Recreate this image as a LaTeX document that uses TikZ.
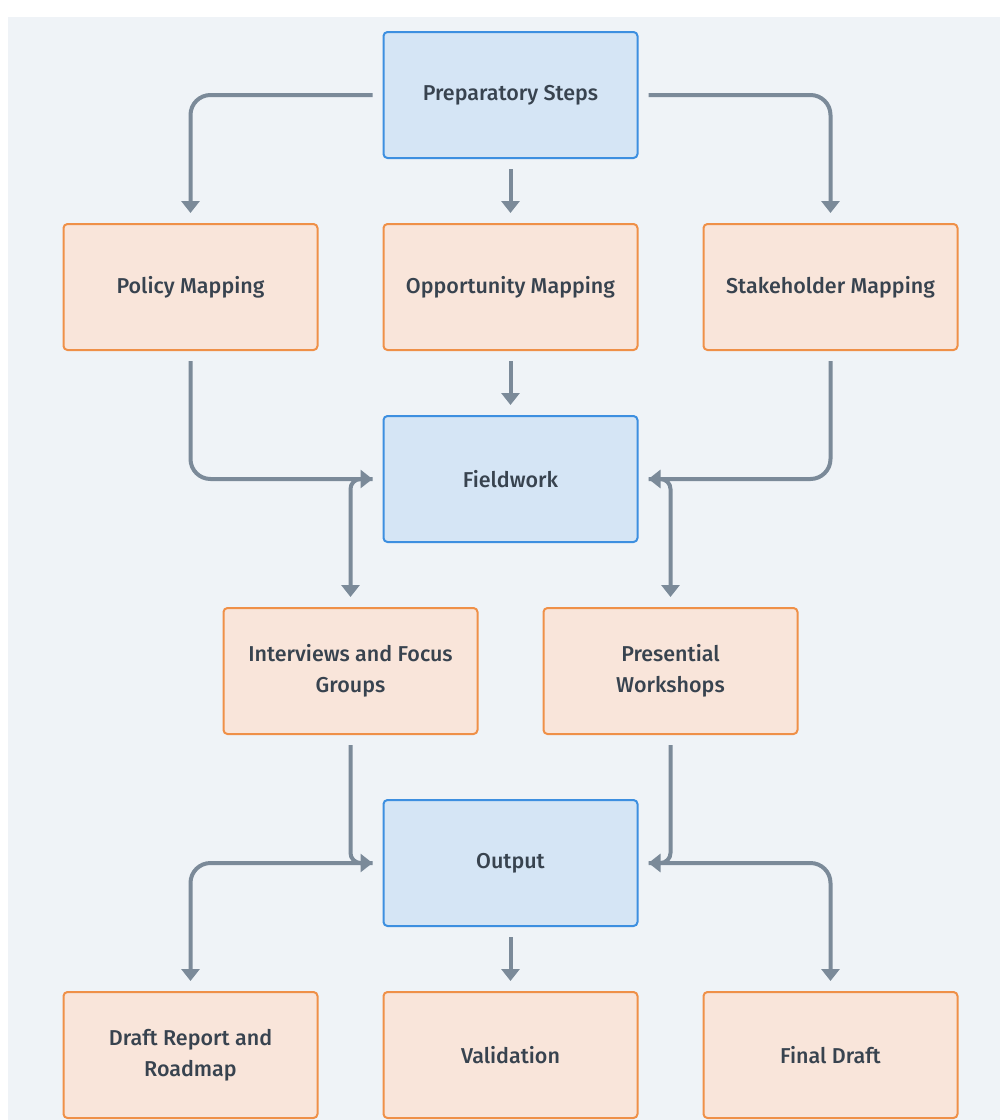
\documentclass[tikz,border=0pt]{standalone}
\usepackage{fontspec}
\setmainfont{Fira Sans Medium}
\usetikzlibrary{positioning}
\usetikzlibrary{arrows.meta}

\definecolor{bgcol}{HTML}{EFF3F7}
\definecolor{bluefill}{HTML}{D5E5F5}
\definecolor{blueline}{HTML}{3D8FE0}
\definecolor{orfill}{HTML}{F9E5DA}
\definecolor{orline}{HTML}{EF9048}
\definecolor{arrcol}{HTML}{7B8A99}
\definecolor{txtcol}{HTML}{38434F}

\begin{document}
\begin{tikzpicture}[
    x=1pt,y=-1pt,
    node distance=64pt,
    box/.style={rectangle,rounded corners=4pt,line width=2pt,minimum width=254pt,minimum height=126pt,
      align=center,text=txtcol,font=\fontsize{21.5}{31}\selectfont},
    bluebox/.style={box,draw=blueline,fill=bluefill},
    orbox/.style={box,draw=orline,fill=orfill},
    arr/.style={line width=4pt,draw=arrcol,-{Triangle[width=18pt,length=12pt]},
      rounded corners=20pt,shorten <=10pt,shorten >=10pt},
    tight/.style={rounded corners=10pt}
    ]
    \useasboundingbox (0,0) rectangle (1000,1120);
    \fill[white] (0,0) rectangle (1000,1120);
    \fill[bgcol] (8,17) rectangle (1000,1120);
    \node (ps) [bluebox] at (510.5,95) {Preparatory Steps};
    \node (om) [orbox,below=of ps] {Opportunity Mapping};
    \node (pm) [orbox,left=of om] {Policy Mapping};
    \node (sm) [orbox,right=of om] {Stakeholder Mapping};
    \node (fw) [bluebox,below=of om] {Fieldwork};
    \node (ifg) [orbox,below=of fw.south west,xshift=-32pt] {Interviews and Focus\\Groups};
    \node (pw) [orbox,below=of fw.south east,xshift=32pt] {Presential\\Workshops};
    \node (out) [bluebox,below=of ifg.south east,xshift=32pt] {Output};
    \node (val) [orbox,below=of out] {Validation};
    \node (dr) [orbox,left=of val] {Draft Report and\\Roadmap};
    \node (fd) [orbox,right=of val] {Final Draft};
    % preparatory steps
    \draw[arr] (ps.west) -| (pm.north);
    \draw[arr] (ps.south) -- (om.north);
    \draw[arr] (ps.east) -| (sm.north);
    % into fieldwork
    \draw[arr] (pm.south) |- (fw.west);
    \draw[arr] (om.south) -- (fw.north);
    \draw[arr] (sm.south) |- (fw.east);
    % fieldwork activities
    \draw[arr,tight] (fw.west) -| (ifg.north);
    \draw[arr,tight] (fw.east) -| (pw.north);
    \draw[arr,tight] (ifg.south) |- (out.west);
    \draw[arr,tight] (pw.south) |- (out.east);
    % output
    \draw[arr] (out.west) -| (dr.north);
    \draw[arr] (out.south) -- (val.north);
    \draw[arr] (out.east) -| (fd.north);
  \end{tikzpicture}
\end{document}
